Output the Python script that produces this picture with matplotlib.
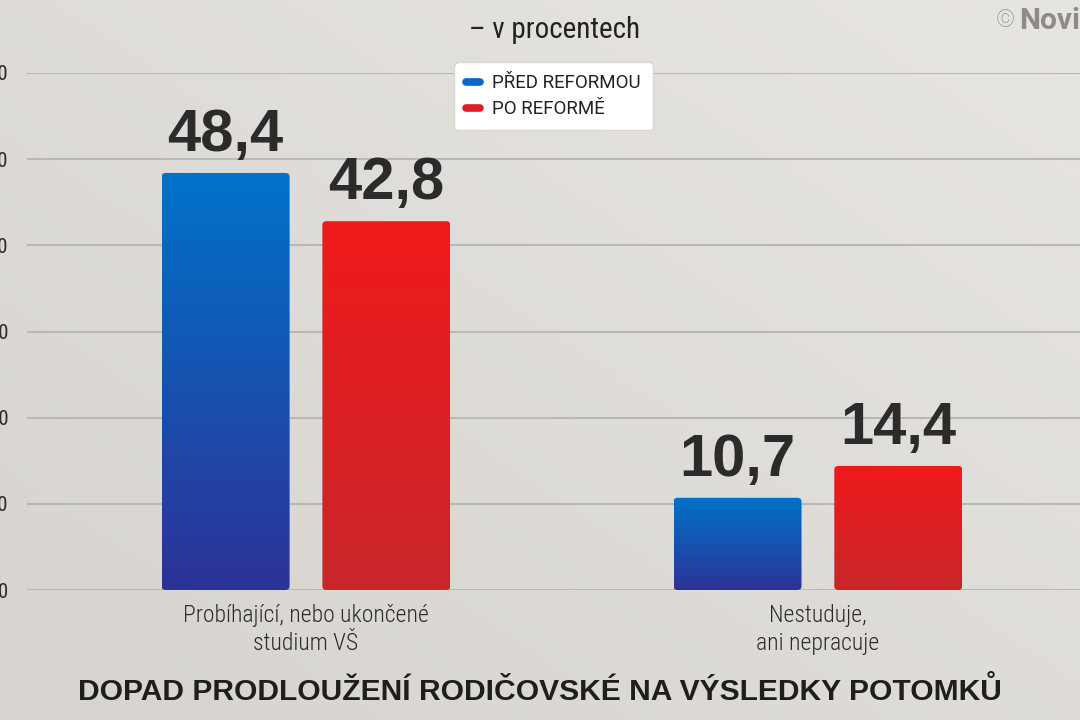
import numpy as np
import matplotlib
matplotlib.use("Agg")
import matplotlib.pyplot as plt
from matplotlib import font_manager as fm
from matplotlib.patches import FancyBboxPatch
from matplotlib.lines import Line2D
from matplotlib.colors import to_rgb

# ---------------- data ----------------
categories = ["Probíhající, nebo ukončené\nstudium VŠ", "Nestuduje,\nani nepracuje"]
series_names = ["PŘED REFORMOU", "PO REFORMĚ"]
before_reform = [48.4, 10.7]
after_reform = [42.8, 14.4]
value_labels_before = ["48,4", "10,7"]
value_labels_after = ["42,8", "14,4"]
y_ticks = [0, 10, 20, 30, 40, 50, 60]
y_tick_labels = ["0", "10", "20", "30", "40", "50", "60"]
subtitle = "– v procentech"
title = "DOPAD PRODLOUŽENÍ RODIČOVSKÉ NA VÝSLEDKY POTOMKŮ"
watermark_sign = "©"
watermark = "Novinky"

# ---------------- fonts ----------------
names = {f.name for f in fm.fontManager.ttflist}

def pick(*cands):
    for c in cands:
        if c in names:
            return c
    return "DejaVu Sans"

COND = [pick("Roboto Condensed", "Liberation Sans Narrow", "Roboto"), "DejaVu Sans"]
ROBOTO = [pick("Roboto", "Liberation Sans"), "DejaVu Sans"]
BOLD = [pick("Liberation Sans", "DejaVu Sans"), "DejaVu Sans"]

# ---------------- figure ----------------
W, H = 1080, 720
fig = plt.figure(figsize=(W / 100, H / 100), dpi=100)
fig.patch.set_facecolor("#dedbd7")

# subtle background gradient
bg = fig.add_axes([0, 0, 1, 1], zorder=-10)
gx = np.linspace(0, 1, 200)[None, :]
gy = np.linspace(0, 1, 140)[:, None]
t = 0.5 * gx + 0.5 * (1 - gy)
c_dark = np.array(to_rgb("#d7d4cf"))
c_light = np.array(to_rgb("#e7e5e2"))
img = c_dark[None, None, :] * (1 - t[..., None]) + c_light[None, None, :] * t[..., None]
bg.imshow(img, extent=[0, 1, 0, 1], aspect="auto", origin="upper")
bg.set_axis_off()

# main axes
left_px, right_px, bottom_px, top_px = 27, 1080, 590, 73
ax = fig.add_axes([left_px / W, 1 - bottom_px / H, (right_px - left_px) / W, (bottom_px - top_px) / H])
ax.set_facecolor("none")
for s in ax.spines.values():
    s.set_visible(False)

x = np.arange(len(categories))
bw = 0.25
off = 0.157
bars_b = ax.bar(x - off, before_reform, width=bw, color="none", zorder=3)
bars_a = ax.bar(x + off, after_reform, width=bw, color="none", zorder=3)

xlim = (-0.545, 1.512)
ylim = (0, 60)
ax.set_xlim(*xlim)
ax.set_ylim(*ylim)

# pixel scale for rounded corners
px_per_x = (right_px - left_px) / (xlim[1] - xlim[0])
px_per_y = (bottom_px - top_px) / (ylim[1] - ylim[0])
r_px = 4.0
grad_n = 256

def draw_gradient_bar(rect, top_col, bot_col):
    x0, y0 = rect.get_x(), rect.get_y()
    w, h = rect.get_width(), rect.get_height()
    patch = FancyBboxPatch((x0, y0), w, h,
                           boxstyle=f"round,pad=0,rounding_size={r_px / px_per_x}",
                           mutation_aspect=px_per_x / px_per_y,
                           facecolor="none", edgecolor="none", zorder=3)
    ax.add_patch(patch)
    tt = np.linspace(0, 1, grad_n)[:, None]
    top = np.array(to_rgb(top_col)); bot = np.array(to_rgb(bot_col))
    arr = (bot[None, :] * (1 - tt) + top[None, :] * tt)[:, None, :]
    im = ax.imshow(arr, extent=[x0, x0 + w, y0, y0 + h], origin="lower",
                   aspect="auto", zorder=3, interpolation="bilinear")
    im.set_clip_path(patch)

for r in bars_b:
    draw_gradient_bar(r, "#0073c9", "#2d3297")
for r in bars_a:
    draw_gradient_bar(r, "#ef1a1a", "#c8262b")
ax.set_xlim(*xlim)
ax.set_ylim(*ylim)

# value labels
for rects, labs in ((bars_b, value_labels_before), (bars_a, value_labels_after)):
    for r, lab in zip(rects, labs):
        ax.annotate(lab, (r.get_x() + r.get_width() / 2, r.get_height()),
                    xytext=(0, 16), textcoords="offset points",
                    ha="center", va="baseline", fontsize=43, fontweight="bold",
                    family=BOLD, color="#2b2b2b", zorder=5)

# grid
ax.set_yticks(y_ticks)
ax.set_yticklabels(y_tick_labels)
ax.yaxis.grid(True, color="#bbb8b4", linewidth=1.5, zorder=1)
ax.set_axisbelow(True)
ax.tick_params(axis="y", length=0, pad=13.5, labelsize=15, labelcolor="#2b2b2b")
for lbl in ax.get_yticklabels():
    lbl.set_family(COND)

ax.set_xticks(x)
ax.set_xticklabels(categories)
ax.tick_params(axis="x", length=0, pad=10, labelsize=17, labelcolor="#2b2b2b")
for lbl in ax.get_xticklabels():
    lbl.set_family(COND)
    lbl.set_fontweight("light")
    lbl.set_linespacing(1.27)

# legend
handles = [Line2D([0], [0], color="#0a66c8", lw=5.5, solid_capstyle="round"),
           Line2D([0], [0], color="#e01e26", lw=5.5, solid_capstyle="round")]
leg = fig.legend(handles, series_names, loc="upper left",
                 bbox_to_anchor=(454 / W, 1 - 62 / H),
                 frameon=True, fancybox=True, shadow=False,
                 handlelength=0.75, handletextpad=0.65, labelspacing=0.42,
                 borderpad=0.65, borderaxespad=0,
                 prop=fm.FontProperties(family=ROBOTO, weight="normal", size=13.5))
leg.get_frame().set_facecolor("white")
leg.get_frame().set_edgecolor("#d8d6d3")
leg.get_frame().set_alpha(1.0)
leg.get_frame().set_boxstyle("round,pad=0,rounding_size=0.25")
for txt in leg.get_texts():
    txt.set_color("#222222")

# texts
fig.text(555 / W, 1 - 30 / H, subtitle, ha="center", va="center", fontsize=21,
         color="#222222", family=COND)
fig.text(540 / W, 1 - 692 / H, title, ha="center", va="center", fontsize=21.6,
         fontweight="bold", color="#1e1e1e", family=BOLD)
fig.text(996 / W, 1 - 21 / H, watermark_sign, ha="left", va="center", fontsize=17,
         color="#8f8b88", family=ROBOTO, fontweight="light")
fig.text(1019 / W, 1 - 21 / H, watermark, ha="left", va="center", fontsize=21.5,
         fontweight="bold", color="#8f8b88", family=ROBOTO)

fig.savefig("out.png", dpi=100, facecolor=fig.get_facecolor())
